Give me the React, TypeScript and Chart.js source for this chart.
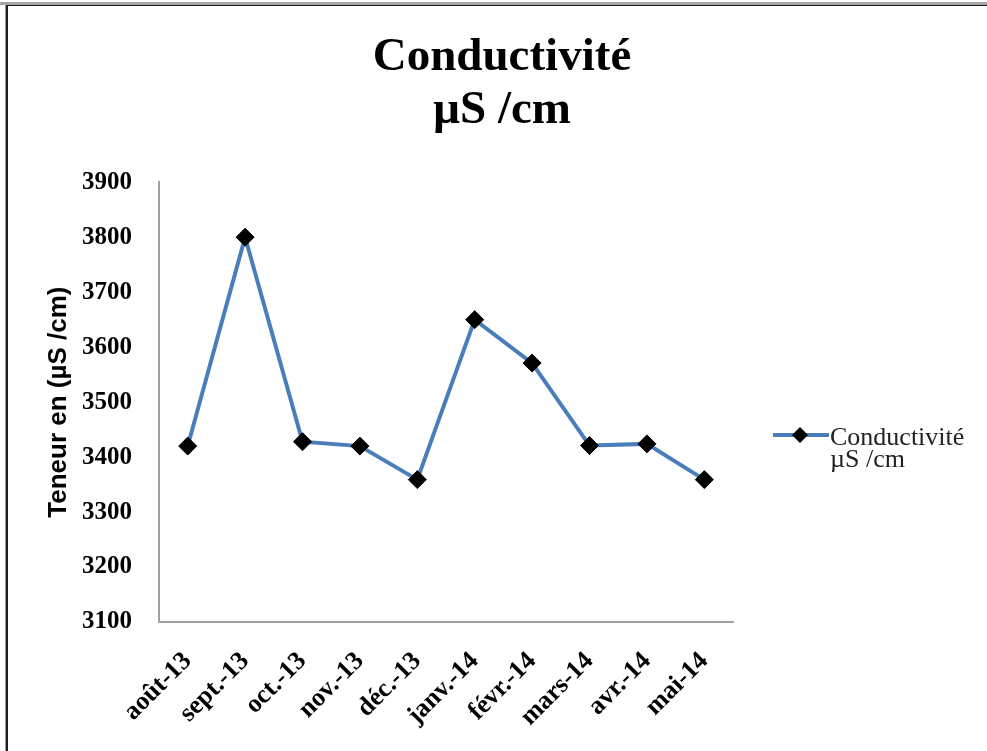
import React, { useEffect, useRef } from "react";
import { Chart, registerables } from "chart.js";

Chart.register(...registerables);

const months = ["août-13", "sept.-13", "oct.-13", "nov.-13", "déc.-13", "janv.-14", "févr.-14", "mars-14", "avr.-14", "mai-14"];
const conductivite = [3420, 3800, 3428, 3420, 3359, 3650, 3571, 3421, 3424, 3359];
const titleLines = ["Conductivité", "µS /cm"];
const legendLines = ["Conductivité", "µS /cm"];
const yAxisTitle = "Teneur en (µS /cm)";
const yMin = 3100;
const yMax = 3900;
const yStep = 100;

const LINE_COLOR = "#4a7ebb";
const W = 987;
const H = 751;

const framePlugin = {
  id: "frameAndLegend",
  afterDraw(chart: any) {
    const ctx = chart.ctx;
    ctx.save();
    // frame
    ctx.fillStyle = "#a6a6a6";
    ctx.fillRect(0, 2, W, 3);
    ctx.fillStyle = "#1e1e1e";
    ctx.fillRect(6, 5, W - 6, 1);
    ctx.fillStyle = "#9a9a9a";
    ctx.fillRect(5, 5, 1, H);
    ctx.fillStyle = "#1e1e1e";
    ctx.fillRect(6, 5, 2, H);
    // legend
    const ly = 435;
    ctx.strokeStyle = LINE_COLOR;
    ctx.lineWidth = 4;
    ctx.beginPath();
    ctx.moveTo(773, ly);
    ctx.lineTo(829, ly);
    ctx.stroke();
    ctx.fillStyle = "#000";
    ctx.beginPath();
    ctx.moveTo(800, ly - 8);
    ctx.lineTo(808, ly);
    ctx.lineTo(800, ly + 8);
    ctx.lineTo(792, ly);
    ctx.closePath();
    ctx.fill();
    ctx.fillStyle = "#222";
    ctx.font = "26px 'Liberation Serif'";
    ctx.textAlign = "left";
    ctx.textBaseline = "alphabetic";
    ctx.fillText(legendLines[0], 830, 445);
    ctx.fillText(legendLines[1], 830, 467);
    ctx.restore();
  },
};

export default function App() {
  const ref = useRef<HTMLCanvasElement | null>(null);
  useEffect(() => {
    if (!ref.current) return;
    const chart = new Chart(ref.current, {
      type: "line",
      data: {
        labels: months,
        datasets: [
          {
            label: legendLines.join(" "),
            data: conductivite,
            borderColor: LINE_COLOR,
            borderWidth: 4,
            pointStyle: "rectRot",
            pointRadius: 9,
            pointHoverRadius: 9,
            pointBackgroundColor: "#000",
            pointBorderColor: "#000",
            pointBorderWidth: 1,
            tension: 0,
            yAxisID: "y",
          },
        ],
      },
      options: {
        animation: false,
        responsive: false,
        devicePixelRatio: 1,
        layout: { padding: { left: 17, right: 0, top: 0, bottom: 0 } },
        plugins: {
          legend: { display: false },
          tooltip: { enabled: false },
          title: {
            display: true,
            text: titleLines,
            color: "#000",
            font: { family: "'Liberation Serif'", size: 47, weight: "bold", lineHeight: 1.13 },
            padding: { top: 31, bottom: 45 },
          },
        },
        scales: {
          x: {
            type: "category",
            offset: true,
            grid: { display: false, drawTicks: false },
            border: { display: true, color: "#a0a0a0", width: 2 },
            ticks: {
              color: "#000",
              font: { family: "'Liberation Serif'", size: 26, weight: "bold" },
              minRotation: 45,
              maxRotation: 45,
              autoSkip: false,
              padding: 24,
            },
            afterFit(scale: any) {
              scale.height = H - 622;
            },
          },
          y: {
            min: yMin,
            max: yMax,
            grid: { display: false, drawTicks: false },
            border: { display: true, color: "#a0a0a0", width: 2 },
            ticks: {
              stepSize: yStep,
              color: "#000",
              font: { family: "'Liberation Serif'", size: 25, weight: "bold" },
              padding: 27,
              callback: (v: any) => String(v),
            },
            title: {
              display: true,
              text: yAxisTitle,
              color: "#000",
              font: { family: "'Liberation Sans'", size: 26, weight: "bold" },
              padding: { top: 26, bottom: 0 },
            },
            afterFit(scale: any) {
              scale.width = 159 - 17;
            },
          },
          y2: {
            position: "right",
            display: true,
            grid: { display: false, drawTicks: false },
            border: { display: false },
            ticks: { display: false },
            afterFit(scale: any) {
              scale.width = W - 733;
            },
          },
        },
      },
      plugins: [framePlugin],
    });
    return () => chart.destroy();
  }, []);
  return (
    <div style={{ position: "absolute", left: 0, top: 0, width: W, height: H, background: "#fff" }}>
      <canvas ref={ref} width={W} height={H} style={{ width: W, height: H, display: "block" }} />
    </div>
  );
}
